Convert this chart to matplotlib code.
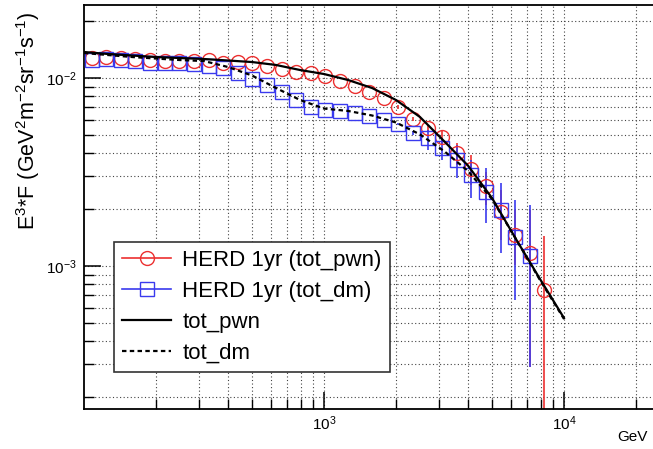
import matplotlib
matplotlib.use('Agg')
import matplotlib.pyplot as plt
from matplotlib.lines import Line2D
from matplotlib.ticker import LogLocator, NullFormatter, FixedLocator, LogFormatterSciNotation

plt.rcParams['font.family'] = ['Liberation Sans', 'DejaVu Sans']
plt.rcParams['mathtext.default'] = 'regular'

# energy bins of the mock HERD points (GeV)
energy = [107.7, 123.9, 142.5, 163.9, 188.6, 216.9, 249.6, 287.1, 330.3, 379.8,
          436.9, 502.6, 578.2, 665.2, 765.3, 880.3, 1012.5, 1165, 1340, 1541,
          1774, 2040, 2347, 2700, 3106, 3572, 4110, 4727, 5438, 6256,
          7197, 8279]

# HERD 1yr (tot_pwn), values x1e-3
pwn_pts = [12.77, 12.93, 12.77, 12.69, 12.46, 12.31, 12.31, 12.31, 12.46, 12.02,
           12.16, 12.02, 11.58, 11.16, 10.76, 10.63, 10.25, 9.64, 9.07, 8.42,
           7.82, 7.01, 6.05, 5.42, 4.85, 3.99, 3.28, 2.66, 1.94, 1.46,
           1.17, 0.745]
pwn_err_lo = [0]*21 + [0.15, 0.15, 0.2, 0.45, 0.54, 0.58, 0.55, 0.57, 0.45, 0.88, 0.7449]
pwn_err_hi = [0]*21 + [0.15, 0.15, 0.2, 0.44, 0.52, 0.61, 0.50, 0.60, 0.53, 0.82, 0.695]

# HERD 1yr (tot_dm), values x1e-3
dm_pts = [12.46, 12.62, 12.46, 12.31, 12.02, 12.02, 12.02, 11.87, 11.58, 11.30,
          10.63, 9.88, 9.18, 8.42, 7.64, 7.01, 6.76, 6.68, 6.51, 6.28,
          5.98, 5.69, 5.10, 4.80, 4.24, 3.66, 3.05, 2.47, 1.99, 1.43,
          1.13]
dm_err_lo = [0]*21 + [0.1, 0.15, 0.66, 0.58, 0.72, 0.75, 0.78, 0.82, 0.77, 0.84]
dm_err_hi = [0]*21 + [0.1, 0.15, 0.49, 0.56, 0.74, 0.61, 0.85, 0.77, 0.81, 0.98]

# model curves
model_e = [100, 125.9, 158.5, 199.5, 251.2, 316.2, 398.1, 501.2, 631.0, 794.3,
           1000, 1259, 1585, 1995, 2512, 3162, 3981, 5012, 6310, 7943, 10000]
tot_pwn = [13.75, 13.42, 13.17, 12.93, 12.77, 12.62, 12.39, 12.16, 11.73, 11.03,
           10.50, 9.76, 8.85, 7.64, 6.20, 4.62, 3.42, 2.30, 1.39, 0.853, 0.529]
tot_dm = [13.58, 13.25, 12.93, 12.69, 12.46, 12.31, 11.44, 10.31, 8.85, 7.64,
          6.88, 6.68, 6.32, 5.80, 5.01, 4.09, 3.20, 2.27, 1.39, 0.842, 0.523]

x_labeled = [1e3, 1e4]
y_labeled = [1e-3, 1e-2]

s = 1e-3
red = '#ec3030'
blue = '#3a3aee'

fig = plt.figure(figsize=(6.53, 4.49), dpi=100)
ax = fig.add_axes([84/653, 40/449, 576/653, 404/449])

ax.errorbar(energy, [v*s for v in pwn_pts],
            yerr=[[v*s for v in pwn_err_lo], [v*s for v in pwn_err_hi]],
            fmt='none', ecolor=red, elinewidth=1.2, zorder=2)
ax.errorbar(energy[:len(dm_pts)], [v*s for v in dm_pts],
            yerr=[[v*s for v in dm_err_lo], [v*s for v in dm_err_hi]],
            fmt='none', ecolor=blue, elinewidth=1.2, zorder=2)
ax.plot(energy, [v*s for v in pwn_pts], 'o', ms=10, mfc='none', mec=red, mew=1.0, zorder=3)
ax.plot(energy[:len(dm_pts)], [v*s for v in dm_pts], 's', ms=10, mfc='none', mec=blue, mew=1.0, zorder=3)
ax.plot(model_e, [v*s for v in tot_pwn], color='black', lw=1.6, zorder=4)
ax.plot(model_e, [v*s for v in tot_dm], color='black', lw=1.6, ls=(0, (2, 1.5)), zorder=4)

ax.set_xscale('log')
ax.set_yscale('log')
ax.set_xlim(100, 25119)
ax.set_ylim(1.736e-4, 0.02445)

ax.xaxis.set_major_locator(FixedLocator(x_labeled))
ax.yaxis.set_major_locator(FixedLocator(y_labeled))
for axis in (ax.xaxis, ax.yaxis):
    axis.set_major_formatter(LogFormatterSciNotation())
    axis.set_minor_locator(LogLocator(base=10, subs=range(2, 10)))
    axis.set_minor_formatter(NullFormatter())
ax.grid(True, which='both', color='#444444', lw=0.8, ls=(0, (1, 2.2)))
ax.set_axisbelow(True)
ax.tick_params(which='major', direction='in', length=12, width=1.1, labelsize=11)
ax.tick_params(which='minor', direction='in', length=7, width=1.0)
ax.tick_params(axis='y', pad=5)
ax.tick_params(axis='x', pad=4)
for sp in ax.spines.values():
    sp.set_linewidth(1.3)

ax.set_ylabel('E$^{3}$*F (GeV$^{2}$m$^{-2}$sr$^{-1}$s$^{-1}$)', fontsize=15.5)
ax.yaxis.label.set_ha('right')
ax.yaxis.set_label_coords((42 - 84)/576, 0.985)
fig.text(632/653, 1 - 437/449, 'GeV', fontsize=11, ha='center', va='center')

handles = [
    Line2D([], [], color=red, lw=1.2, marker='o', ms=10, mfc='none', mec=red, mew=1.0),
    Line2D([], [], color=blue, lw=1.2, marker='s', ms=10, mfc='none', mec=blue, mew=1.0),
    Line2D([], [], color='black', lw=1.6),
    Line2D([], [], color='black', lw=1.6, ls=(0, (2, 1.5))),
]
labels = ['HERD 1yr (tot_pwn)', 'HERD 1yr (tot_dm)', 'tot_pwn', 'tot_dm']
leg = fig.legend(handles, labels, loc='upper left',
                 bbox_to_anchor=(114/653, 1 - 242/449), fontsize=16,
                 frameon=True, fancybox=False, edgecolor='#333333', framealpha=1,
                 handlelength=2.2, handletextpad=0.5, labelspacing=0.44,
                 borderpad=0.37, borderaxespad=0)
leg.get_frame().set_linewidth(1.2)

fig.savefig('out.png', dpi=100)
